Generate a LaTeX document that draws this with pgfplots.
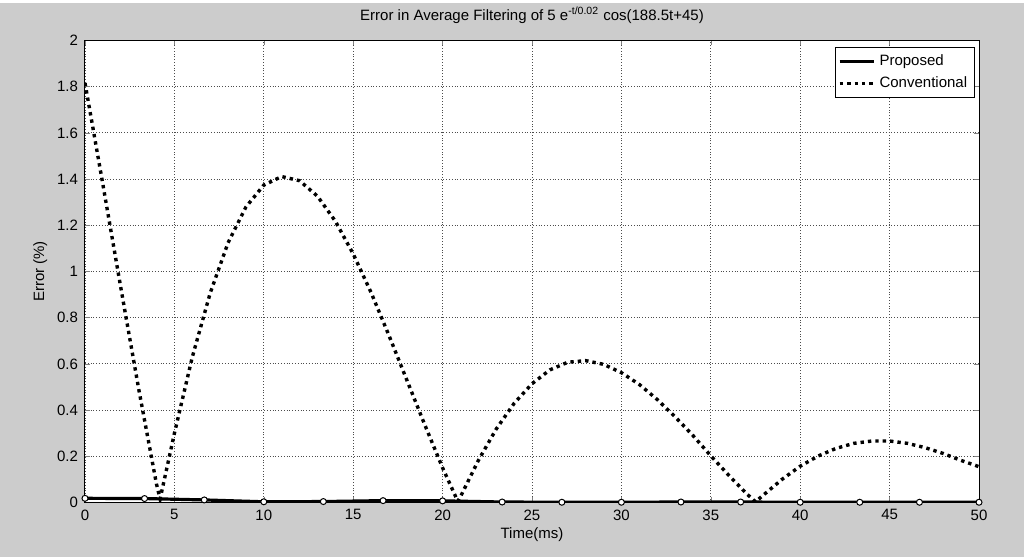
\documentclass[border=0pt]{standalone}
\usepackage{pgfplots}
\pgfplotsset{compat=1.18}
\usepackage{fontspec}
\setmainfont{Liberation Sans}
\definecolor{figbg}{RGB}{204,204,204}

\begin{document}
\begin{tikzpicture}
% figure background (1px = 0.5pt, axis box at 85..979 x 37..499 px)
\fill[figbg] (-42.5pt,-27.5pt) rectangle (469.5pt,249.5pt);
\begin{axis}[
  at={(0pt,0pt)}, anchor=south west, scale only axis, width=447pt, height=231pt,
  xmin=0, xmax=50, ymin=0, ymax=2,
  xtick={0,5,...,50}, ytick={0,0.2,...,2},
  yticklabels={0,0.2,0.4,0.6,0.8,1,1.2,1.4,1.6,1.8,2},
  axis background/.style={fill=white},
  tick align=inside, major tick length=2.5pt,
  grid=major, major grid style={densely dotted, black!70, line width=0.4pt},
  axis line style={line width=0.5pt},
  font=\fontsize{7.5pt}{9pt}\selectfont,
  tick label style={font=\fontsize{7.5pt}{9pt}\selectfont, /pgf/number format/assume math mode=true},
  title={Error in Average Filtering of 5 e\textsuperscript{-t/0.02} cos(188.5t+45)},
  title style={font=\fontsize{7.5pt}{9pt}\selectfont, yshift=-1pt},
  xlabel={Time(ms)}, ylabel={Error (\%)},
  xlabel style={yshift=3pt}, ylabel style={yshift=-2pt},
  legend style={at={(0.995,0.985)}, anchor=north east, font=\fontsize{7.5pt}{9pt}\selectfont,
    draw=black, fill=white, inner sep=1.5pt, row sep=0pt, cells={anchor=west}},
  legend cell align=left,
]
\addplot[black, line width=1.6pt] coordinates {
(0,0.018) (3.33,0.017) (6.67,0.011) (10,0.003) (13.33,0.004) (16.67,0.008)
(20,0.007) (23.33,0.002) (26.67,0.001) (30,0.001) (33.33,0.002) (36.67,0.002)
(40,0.001) (43.33,0.001) (46.67,0.001) (50,0.001)
};
\addlegendentry{Proposed}
\addplot[black, line width=1.7pt, dotted] coordinates {
(0,1.816) (1,1.377) (2,0.931) (3,0.493) (4,0.079) (4.2,0.015) (5,0.299)
(6,0.629) (7,0.906) (8,1.124) (9,1.279) (10,1.374) (11,1.411) (12,1.393)
(13,1.326) (14,1.218) (15,1.076) (16,0.909) (17,0.723) (18,0.530) (19,0.337)
(20,0.150) (20.85,0.005) (21,0.025) (22,0.182) (23,0.318) (24,0.429) (25,0.514)
(26,0.574) (27,0.607) (28,0.614) (29,0.598) (30,0.562) (31,0.511) (32,0.446)
(33,0.371) (34,0.290) (35,0.202) (36,0.118) (37,0.038) (37.5,0.003) (38,0.036)
(39,0.101) (40,0.157) (41,0.201) (42,0.234) (43,0.256) (44,0.266) (45,0.266)
(46,0.256) (47,0.237) (48,0.212) (49,0.182) (50,0.155)
};
\addlegendentry{Conventional}
\addplot[only marks, forget plot, mark=*, mark size=1.5pt, mark options={fill=white, draw=black, line width=0.5pt}] coordinates {
(0,0.018) (3.33,0.017) (6.67,0.011) (10,0.003) (13.33,0.004) (16.67,0.008)
(20,0.007) (23.33,0.002) (26.67,0.001) (30,0.001) (33.33,0.002) (36.67,0.002)
(40,0.001) (43.33,0.001) (46.67,0.001) (50,0.001)
};
\end{axis}
\end{tikzpicture}
\end{document}
